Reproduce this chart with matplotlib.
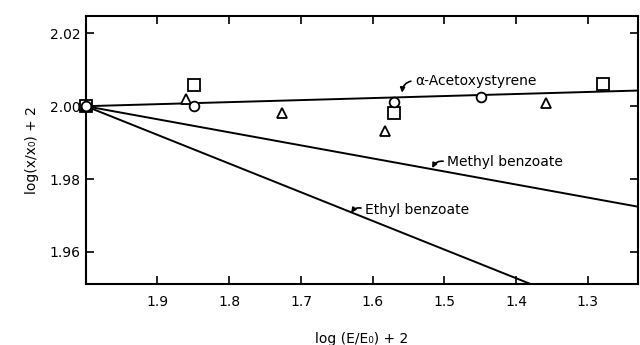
import matplotlib
matplotlib.use('Agg')
import matplotlib.pyplot as plt
import numpy as np

# --- data ---
# fitted lines: log(E/E0)+2 -> log(x/x0)+2
acet_line_x = [2.00, 1.23]
acet_line_y = [2.000, 2.0043]
methyl_line_x = [2.00, 1.23]
methyl_line_y = [2.000, 1.9724]
ethyl_line_x = [2.00, 1.379]
ethyl_line_y = [2.000, 1.9511]

# measured points
circle_x = [2.00, 1.849, 1.570, 1.449]
circle_y = [2.000, 2.000, 2.0012, 2.0026]
triangle_x = [2.00, 1.860, 1.727, 1.583, 1.358]
triangle_y = [2.000, 2.002, 1.998, 1.9931, 2.001]
square_x = [2.00, 1.849, 1.570, 1.279]
square_y = [2.000, 2.0059, 1.9981, 2.0061]

xticks = [1.9, 1.8, 1.7, 1.6, 1.5, 1.4, 1.3]
yticks = [2.02, 2.00, 1.98, 1.96]

plt.rcParams['font.family'] = ['DejaVu Sans']
fig = plt.figure(figsize=(6.4, 3.45), dpi=100)
ax = fig.add_axes([0.134, 0.176, 0.863, 0.779])

lw = 1.4
ax.plot(acet_line_x, acet_line_y, color='black', lw=lw)
ax.plot(methyl_line_x, methyl_line_y, color='black', lw=lw)
ax.plot(ethyl_line_x, ethyl_line_y, color='black', lw=lw)

mk = dict(linestyle='none', markerfacecolor='white', markeredgecolor='black',
          markeredgewidth=1.3, clip_on=False, zorder=3)
ax.plot(square_x, square_y, marker='s', markersize=8, **mk)
ax.plot(triangle_x, triangle_y, marker='^', markersize=7, **mk)
ax.plot(circle_x, circle_y, marker='o', markersize=7, **mk)

# labels with short curved arrows from the start of the text
arrow = dict(arrowstyle='-|>', color='black', lw=1.2, mutation_scale=7,
             connectionstyle='arc3,rad=0.45', shrinkA=1, shrinkB=0,
             relpos=(0, 0.5))
ax.annotate('α-Acetoxystyrene', xy=(1.559, 2.0037), xytext=(1.541, 2.0070),
            fontsize=10, va='center', ha='left', arrowprops=arrow)
ax.annotate('Methyl benzoate', xy=(1.517, 1.9830), xytext=(1.496, 1.9846),
            fontsize=10, va='center', ha='left', arrowprops=arrow)
ax.annotate('Ethyl benzoate', xy=(1.630, 1.9707), xytext=(1.6105, 1.9716),
            fontsize=10, va='center', ha='left', arrowprops=arrow)

ax.set_xlim(2.0, 1.23)
ax.set_ylim(1.9511, 2.0249)
ax.set_xticks(xticks)
ax.set_xticklabels([f'{v:.1f}' for v in xticks])
ax.set_yticks(yticks)
ax.set_yticklabels([f'{v:.2f}' for v in yticks])
ax.tick_params(direction='in', length=6, width=1.2, top=True, right=True,
               labelsize=10)
ax.tick_params(axis='x', pad=8)
for s in ax.spines.values():
    s.set_linewidth(1.5)

ax.set_xlabel('log (E/E₀) + 2', fontsize=10, labelpad=16)
ax.set_ylabel('log(x/x₀) + 2', fontsize=10, labelpad=8)

fig.savefig('out.png', dpi=100)
